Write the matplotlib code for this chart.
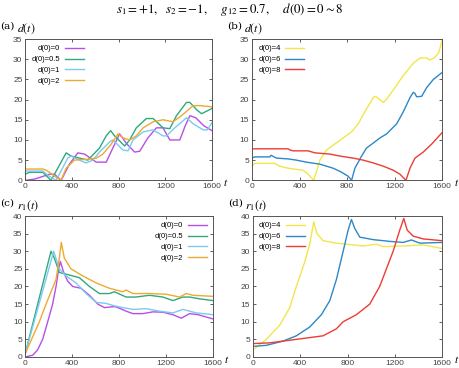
"""Four-panel d(t) / r1(t) comparison for different initial distances d(0)."""

import matplotlib

matplotlib.use("Agg")
import matplotlib.pyplot as plt

plt.rcParams["mathtext.fontset"] = "stix"

# ---- panel (a): d(t), d(0) = 0, 0.5, 1, 2 ----
a_t_d0 = [0, 80, 206, 250, 307, 378, 450, 507, 608, 693, 750, 808, 870, 937, 980,
          1050, 1123, 1180, 1238, 1324, 1370, 1410, 1460, 1530, 1600]
a_v_d0 = [0.0, 0.3, 1.5, 1.5, 0.0, 4.0, 6.8, 6.5, 4.5, 4.5, 8.0, 11.5, 9.0, 7.0, 7.2,
          10.5, 13.0, 13.0, 10.0, 10.0, 13.5, 16.0, 15.5, 13.5, 12.3]
a_t_d05 = [0, 34, 149, 220, 278, 350, 393, 464, 536, 636, 693, 731, 765, 851, 894,
           951, 1037, 1095, 1180, 1238, 1295, 1381, 1410, 1467, 1510, 1600]
a_v_d05 = [1.5, 2.0, 2.0, 0.0, 3.0, 6.8, 6.0, 5.5, 5.0, 8.0, 11.0, 12.3, 11.0, 8.5, 10.0,
           13.0, 15.3, 15.3, 13.0, 12.8, 16.0, 19.3, 19.3, 17.5, 16.5, 17.8]
a_t_d1 = [0, 149, 206, 264, 364, 393, 464, 521, 579, 636, 722, 751, 837, 880, 923,
          1009, 1095, 1180, 1209, 1281, 1381, 1438, 1524, 1560, 1600]
a_v_d1 = [2.3, 2.3, 1.0, 0.0, 5.5, 6.0, 5.0, 4.3, 5.0, 7.0, 9.5, 10.0, 7.5, 7.3, 10.0,
          12.0, 12.5, 11.0, 11.0, 13.0, 15.5, 14.0, 12.5, 12.5, 14.3]
a_t_d2 = [0, 149, 180, 278, 307, 350, 421, 521, 608, 665, 737, 794, 837, 894, 951,
          1009, 1095, 1180, 1266, 1338, 1438, 1496, 1600]
a_v_d2 = [2.8, 2.8, 2.5, 0.5, 0.0, 3.0, 5.0, 5.2, 5.5, 6.5, 9.0, 11.5, 10.5, 10.0, 11.0,
          13.0, 14.5, 15.0, 14.5, 16.0, 18.5, 18.5, 18.2]

# ---- panel (b): d(t), d(0) = 4, 6, 8 ----
b_t_d4 = [0, 20, 191, 233, 304, 374, 430, 472, 520, 571, 627, 697, 768, 838, 894,
          950, 1021, 1040, 1105, 1130, 1204, 1274, 1358, 1415, 1471, 1499, 1541, 1570, 1600]
b_v_d4 = [3.5, 4.2, 4.2, 3.5, 3.0, 2.7, 2.5, 1.5, 0.0, 5.0, 7.5, 9.0, 10.5, 12.0, 14.0,
          17.0, 20.5, 20.8, 19.3, 20.0, 23.0, 26.0, 29.0, 30.3, 30.3, 29.8, 30.5, 31.5, 34.5]
b_t_d6 = [0, 20, 149, 160, 205, 304, 374, 458, 571, 627, 683, 754, 810, 838, 866,
          922, 964, 1010, 1077, 1133, 1218, 1274, 1330, 1358, 1372, 1386, 1428, 1471, 1527, 1600]
b_v_d6 = [5.5, 5.8, 5.8, 6.2, 5.5, 5.3, 5.0, 4.5, 4.0, 3.5, 3.0, 2.0, 1.0, 0.0, 3.0,
          6.0, 8.0, 9.0, 10.5, 11.5, 14.0, 17.0, 20.5, 21.8, 21.5, 20.7, 20.8, 23.0, 25.0, 26.7]
b_t_d8 = [0, 304, 320, 346, 472, 529, 655, 740, 852, 936, 1021, 1105, 1189, 1246,
          1296, 1330, 1372, 1442, 1513, 1600]
b_v_d8 = [7.8, 7.8, 7.5, 7.3, 7.3, 6.8, 6.5, 6.0, 5.5, 5.0, 4.3, 3.5, 2.5, 1.5,
          0.0, 3.0, 5.5, 7.0, 9.0, 11.8]

# ---- panel (c): r1(t), d(0) = 0, 0.5, 1, 2 ----
c_t_d0 = [0, 63, 105, 148, 191, 233, 262, 285, 299, 327, 362, 404, 475, 547, 618,
          675, 760, 790, 860, 917, 1002, 1088, 1173, 1258, 1330, 1401, 1472, 1600]
c_v_d0 = [0.0, 0.5, 2.0, 5.0, 10.0, 15.0, 20.0, 25.0, 27.1, 24.0, 21.5, 20.0, 19.5,
          17.5, 15.0, 14.0, 14.3, 14.0, 13.0, 12.3, 12.3, 12.8, 12.7, 12.0, 11.0, 12.3, 12.0, 10.8]
c_t_d05 = [0, 219, 248, 290, 347, 461, 547, 632, 717, 760, 860, 940, 1059, 1173,
           1258, 1344, 1401, 1486, 1600]
c_v_d05 = [1.0, 30.0, 28.0, 24.0, 23.5, 22.5, 20.0, 18.0, 18.0, 18.5, 17.0, 17.0, 17.5,
           17.0, 16.0, 17.0, 17.0, 16.5, 16.0]
c_t_d1 = [0, 242, 290, 347, 433, 518, 604, 689, 760, 831, 917, 1031, 1145, 1258,
          1344, 1458, 1600]
c_v_d1 = [1.0, 30.0, 25.0, 23.0, 21.0, 18.0, 15.5, 15.2, 14.5, 14.0, 13.5, 13.7, 13.0,
          12.5, 13.5, 12.5, 12.0]
c_t_d2 = [0, 120, 177, 262, 290, 307, 333, 390, 490, 604, 717, 774, 831, 860, 917,
          1059, 1201, 1315, 1372, 1429, 1600]
c_v_d2 = [1.0, 10.0, 15.0, 22.0, 28.0, 32.5, 28.0, 25.0, 23.0, 21.0, 19.5, 19.0, 18.5,
          19.0, 18.0, 18.0, 17.8, 17.0, 18.0, 17.5, 17.2]

# ---- panel (d): r1(t), d(0) = 4, 6, 8 ----
d_t_d4 = [0, 113, 226, 311, 367, 438, 480, 514, 542, 593, 706, 790, 932, 1045, 1101,
          1270, 1440, 1600]
d_v_d4 = [2.0, 5.0, 9.0, 14.0, 20.0, 27.0, 32.0, 38.3, 35.0, 33.0, 32.3, 32.0, 31.5,
          32.0, 31.3, 31.5, 31.8, 30.8]
d_t_d6 = [0, 113, 254, 367, 480, 579, 650, 706, 763, 805, 833, 861, 904, 1017, 1158,
          1270, 1341, 1412, 1600]
d_v_d6 = [3.0, 3.3, 4.5, 6.0, 8.5, 12.0, 16.0, 22.0, 30.0, 36.0, 39.0, 36.5, 34.0,
          33.3, 32.8, 32.5, 33.2, 32.3, 32.5]
d_t_d8 = [0, 141, 367, 593, 706, 763, 875, 988, 1072, 1129, 1186, 1242, 1276, 1305,
          1355, 1440, 1600]
d_v_d8 = [3.8, 4.0, 5.0, 6.0, 8.0, 10.0, 12.0, 15.0, 20.0, 25.0, 30.0, 36.0, 39.3,
          36.0, 34.3, 33.5, 33.0]

LABELS_LOW = ["d(0)=0", "d(0)=0.5", "d(0)=1", "d(0)=2"]
LABELS_HIGH = ["d(0)=4", "d(0)=6", "d(0)=8"]
COLORS_LOW = ["#b84ee8", "#2eaa7c", "#7ccaf0", "#eeaa30"]
COLORS_HIGH = ["#f2e64a", "#2c88c8", "#ec3c34"]

fig = plt.figure(figsize=(4.6, 3.68), dpi=100)
fig.text(0.5, 0.975,
         r"$s_1=+1,\ \ s_2=-1,\ \ \ \ g_{12}=0.7,\ \ \ \ d(0)=0\sim8$",
         ha="center", va="center", fontsize=9.3)

panels = [
    ([0.055, 0.510, 0.406, 0.384], "(a)", r"$d(t)$", 35,
     [(a_t_d0, a_v_d0), (a_t_d05, a_v_d05), (a_t_d1, a_v_d1), (a_t_d2, a_v_d2)],
     LABELS_LOW, COLORS_LOW, "upper left"),
    ([0.548, 0.510, 0.413, 0.384], "(b)", r"$d(t)$", 35,
     [(b_t_d4, b_v_d4), (b_t_d6, b_v_d6), (b_t_d8, b_v_d8)],
     LABELS_HIGH, COLORS_HIGH, "upper left"),
    ([0.055, 0.030, 0.408, 0.383], "(c)", r"$r_1(t)$", 40,
     [(c_t_d0, c_v_d0), (c_t_d05, c_v_d05), (c_t_d1, c_v_d1), (c_t_d2, c_v_d2)],
     LABELS_LOW, COLORS_LOW, "upper right"),
    ([0.550, 0.030, 0.411, 0.383], "(d)", r"$r_1(t)$", 40,
     [(d_t_d4, d_v_d4), (d_t_d6, d_v_d6), (d_t_d8, d_v_d8)],
     LABELS_HIGH, COLORS_HIGH, "upper left"),
]

for rect, tag, ylab, ymax, curves, labels, colors, loc in panels:
    ax = fig.add_axes(rect)
    for (t, v), lab, col in zip(curves, labels, colors):
        ax.plot(t, v, color=col, lw=1.0, label=lab)
    ax.set_xlim(0, 1600)
    ax.set_ylim(0, ymax)
    ax.set_xticks([0, 400, 800, 1200, 1600])
    ax.set_yticks(range(0, ymax + 1, 5))
    ax.tick_params(direction="in", length=2.5, width=0.6, labelsize=6,
                   top=True, right=True, pad=2, colors="#444444")
    for tl in ax.get_xticklabels() + ax.get_yticklabels():
        tl.set_fontfamily("Liberation Sans")
    for spine in ax.spines.values():
        spine.set_linewidth(0.7)
        spine.set_color("#555555")
    # axis name t sits just right of the last x tick label
    ax.text(1.075, -0.015, r"$t$", transform=ax.transAxes, fontsize=8,
            ha="center", va="center")
    x0 = rect[0]
    y1 = rect[1] + rect[3]
    fig.text(x0 - 0.055, y1 + 0.035, tag, fontsize=7.5, family="serif",
             ha="left", va="center")
    fig.text(x0 - 0.017, y1 + 0.028, ylab, fontsize=8.5, ha="left", va="center")
    # gnuplot-style key: label on the left, right-aligned, sample line on the right
    ax.legend(loc=loc, frameon=False, markerfirst=False,
              handlelength=2.5, handletextpad=0.6, labelspacing=0.45,
              borderaxespad=0.4, prop={"family": "Liberation Sans", "size": 5.5})

fig.savefig("out.png", dpi=100)
